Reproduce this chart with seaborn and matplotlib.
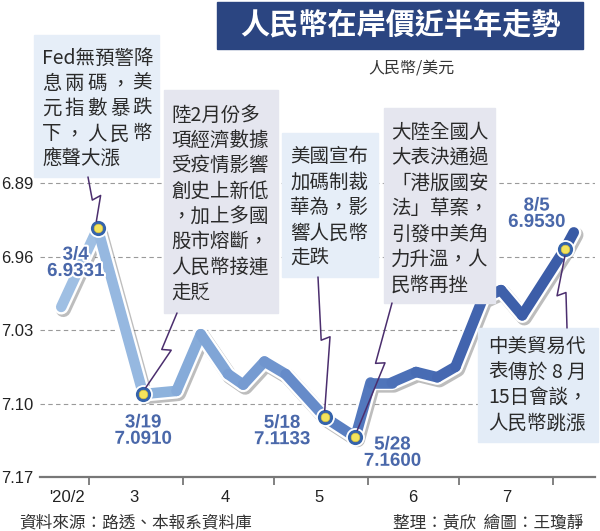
import matplotlib
matplotlib.use("Agg")
import matplotlib.pyplot as plt
import matplotlib.dates as mdates
import matplotlib.patheffects as pe
from matplotlib.colors import LinearSegmentedColormap
from matplotlib.lines import Line2D
from matplotlib.patches import Rectangle
import numpy as np
import pandas as pd
import seaborn as sns

# ──────────────────────────────────────────────────────────────
# Data
# ──────────────────────────────────────────────────────────────
dates = ["2020-02-21", "2020-03-04", "2020-03-19", "2020-03-30", "2020-04-07",
         "2020-04-16", "2020-04-21", "2020-04-28", "2020-05-05", "2020-05-18",
         "2020-05-28", "2020-06-02", "2020-06-09", "2020-06-17", "2020-06-24",
         "2020-06-30", "2020-07-09", "2020-07-15", "2020-07-22", "2020-08-05",
         "2020-08-08"]
rates = [7.008, 6.9331, 7.0910, 7.088, 7.034,
         7.072, 7.082, 7.060, 7.072, 7.1133,
         7.132, 7.080, 7.080, 7.070, 7.075,
         7.065, 7.000, 6.992, 7.016, 6.9530,
         6.937]

key_dates = ["2020-03-04", "2020-03-19", "2020-05-18", "2020-05-28", "2020-08-05"]
key_text = ["3/4\n6.9331", "3/19\n7.0910", "5/18\n7.1133", "5/28\n7.1600", "8/5\n6.9530"]

y_ticks = [6.89, 6.96, 7.03, 7.10, 7.17]
month_starts = ["2020-03-01", "2020-04-01", "2020-05-01", "2020-06-01",
                "2020-07-01", "2020-08-01"]
month_mid = ["2020-02-23", "2020-03-16", "2020-04-15", "2020-05-16",
             "2020-06-16", "2020-07-17"]
month_labels = ["'20/2", "3", "4", "5", "6", "7"]

notes = [
    ["Fed無預警降", "息兩碼，美", "元指數暴跌", "下，人民幣", "應聲大漲"],
    ["陸2月份多", "項經濟數據", "受疫情影響", "創史上新低", "，加上多國",
     "股市熔斷，", "人民幣接連", "走貶"],
    ["美國宣布", "加碼制裁", "華為，影", "響人民幣", "走跌"],
    ["大陸全國人", "大表決通過", "「港版國安", "法」草案，", "引發中美角",
     "力升溫，人", "民幣再挫"],
    ["中美貿易代", "表傳於8月", "15日會談，", "人民幣跳漲"],
]

title = "人民幣在岸價近半年走勢"
unit = "人民幣/美元"
source = "資料來源：路透、本報系資料庫"
credit = "整理：黃欣  繪圖：王瓊靜"

# ──────────────────────────────────────────────────────────────
# Layout / style (pixels of the 600x531 picture)
# ──────────────────────────────────────────────────────────────
W, H = 600, 531
CJK = ["Noto Sans CJK TC", "DejaVu Sans"]
FS = 14
box_geom = [(34, 35, 159, 177), (164, 90, 278, 313), (282, 133, 378, 277),
            (384, 108, 495, 303), (478, 328, 598, 442)]
box_color = ["#e6eef8", "#e5e6ef", "#e6eef8", "#e5e6ef", "#e3ecf7"]
first_y = [58, 115, 157, 133, 347]
text_x = [42, 171, 290, 391, 488]
justify = {(0, 1): 110, (0, 2): 110, (0, 3): 110, (4, 1): 98}
call_start = [(88, 177), (177, 313), (318, 277), (392, 303), (567, 328)]
label_off = [(-22, 35), (0, 37), (-43, 14), (37, 16), (-28, -35)]

sns.set_theme(style="white")
plt.rcParams["font.family"] = ["Liberation Sans", "Noto Sans CJK TC"]

df = pd.DataFrame({"date": pd.to_datetime(dates), "rate": rates})
keys = df[df["date"].isin(pd.to_datetime(key_dates))].reset_index(drop=True)


def fx(px):
    return px / W


def fy(py):
    return 1 - py / H


fig = plt.figure(figsize=(W / 100, H / 100), dpi=100)
fig.patch.set_facecolor("white")
ax = fig.add_axes([fx(40), fy(477), 555 / W, (477 - 35) / H])
ax.set_facecolor("white")

# white halo + shadow under the line
sns.lineplot(data=df, x="date", y="rate", ax=ax, color="white", linewidth=11,
             sort=False, estimator=None, solid_joinstyle="round",
             solid_capstyle="round", zorder=3,
             path_effects=[pe.SimpleLineShadow(offset=(1.5, -1.8),
                                               shadow_color="#444", alpha=0.35),
                           pe.Normal()])

# blue gradient line, one segment per hue
cmap = LinearSegmentedColormap.from_list(
    "rmb", ["#a3c2e5", "#8cb1dc", "#7398d0", "#5176bc", "#4264ae", "#395aa5"])
seg_rows = []
for i in range(len(df) - 1):
    for j in (i, i + 1):
        seg_rows.append({"seg": i, "date": df["date"][j], "rate": df["rate"][j]})
segs = pd.DataFrame(seg_rows)
t = (df["date"] - df["date"].min()) / (df["date"].max() - df["date"].min())
palette = [cmap((t[i] + t[i + 1]) / 2) for i in range(len(df) - 1)]
sns.lineplot(data=segs, x="date", y="rate", hue="seg", palette=palette, ax=ax,
             linewidth=7.6, sort=False, estimator=None, legend=False,
             solid_capstyle="round", solid_joinstyle="round", zorder=4)

# key point markers
sns.scatterplot(data=keys, x="date", y="rate", ax=ax, s=150, color="#3563ab",
                edgecolor="white", linewidth=1.3, zorder=6)
sns.scatterplot(data=keys, x="date", y="rate", ax=ax, s=38, color="#f4e35c",
                edgecolor="#d9c23a", linewidth=0.5, zorder=7)

for (d, r), txt, (dx, dy) in zip(keys[["date", "rate"]].values, key_text, label_off):
    ax.annotate(txt, xy=(d, r), xytext=(dx * 0.72, -dy * 0.72),
                textcoords="offset points", ha="center", va="center",
                fontsize=13.5, fontweight="bold", family="Liberation Sans",
                color="#4a68aa", linespacing=0.95, zorder=8,
                path_effects=[pe.withStroke(linewidth=3, foreground="white")])

# axes styling
ax.set_xlim(pd.Timestamp("2020-02-14"), pd.Timestamp("2020-08-15"))
ax.set_ylim(7.17, 6.749)
ax.set_yticks(y_ticks)
ax.set_yticklabels([f"{v:.2f}" for v in y_ticks])
ax.set_xticks(pd.to_datetime(month_starts))
ax.set_xticklabels([])
ax.set_xticks(pd.to_datetime(month_mid), minor=True)
ax.set_xticklabels(month_labels, minor=True)
ax.set_xlabel("")
ax.set_ylabel("")
ax.tick_params(axis="y", length=0, labelsize=12, pad=5, labelcolor="#222")
ax.tick_params(axis="x", which="major", direction="out", length=6, width=1.3,
               color="#777", bottom=True)
ax.tick_params(axis="x", which="minor", length=0, labelsize=12, pad=9,
               labelcolor="#222")
for s in ["top", "right", "left"]:
    ax.spines[s].set_visible(False)
ax.spines["bottom"].set_color("#777")
ax.spines["bottom"].set_linewidth(1.6)
ax.yaxis.grid(True, linestyle=(0, (4, 3)), color="#9a9a9a", linewidth=0.8)
ax.set_axisbelow(True)

# title bar and unit
fig.add_artist(Rectangle((fx(217), fy(49)), 366 / W, 47 / H,
                         transform=fig.transFigure, color="#2b4581", zorder=1))
fig.text(fx(400), fy(25), title, ha="center", va="center", fontsize=21,
         fontweight="black", color="white", family=CJK, zorder=2)
fig.text(fx(411), fy(68), unit, ha="center", va="center", fontsize=11.5,
         color="#333", family=CJK)

# note boxes
ch = FS * 100 / 72
for k, lines in enumerate(notes):
    x0, y0, x1, y1 = box_geom[k]
    fig.add_artist(Rectangle((fx(x0), fy(y1)), (x1 - x0) / W, (y1 - y0) / H,
                             transform=fig.transFigure, color=box_color[k],
                             zorder=1))
    for i, line in enumerate(lines):
        y = first_y[k] + i * 25.3
        width = justify.get((k, i))
        if width is None:
            fig.text(fx(text_x[k]), fy(y), line, ha="left", va="center",
                     fontsize=FS, color="#2a2a2a", family=CJK, zorder=2)
        else:
            pitch = (width - ch) / (len(line) - 1)
            for j, c in enumerate(line):
                fig.text(fx(text_x[k] + ch / 2 + j * pitch), fy(y), c,
                         ha="center", va="center", fontsize=FS,
                         color="#2a2a2a", family=CJK, zorder=2)

# lightning-bolt callouts from boxes to key points
for (sx, sy), (d, r) in zip(call_start, keys[["date", "rate"]].values):
    ex, ey = ax.transData.transform((mdates.date2num(d), r))
    ey = H - ey
    v = np.array([ex - sx, ey - sy])
    L = np.hypot(*v)
    u = v / L
    n = np.array([u[1], -u[0]])
    S = np.array([sx, sy])
    P1 = S + u * 0.45 * L
    P2 = P1 + n * 9 - u * 3
    E = np.array([ex, ey]) - u * 7
    pts = np.array([S, P1, P2, E])
    fig.add_artist(Line2D(fx(pts[:, 0]), fy(pts[:, 1]), transform=fig.transFigure,
                          color="#4b2e6e", linewidth=1.1, zorder=1.5))

# footer
fig.text(fx(19), fy(523), source, ha="left", va="center", fontsize=12,
         color="#333", family=CJK)
fig.text(fx(583), fy(523), credit, ha="right", va="center", fontsize=12,
         color="#333", family=CJK)

fig.savefig("out.png", dpi=100)
plt.close(fig)
